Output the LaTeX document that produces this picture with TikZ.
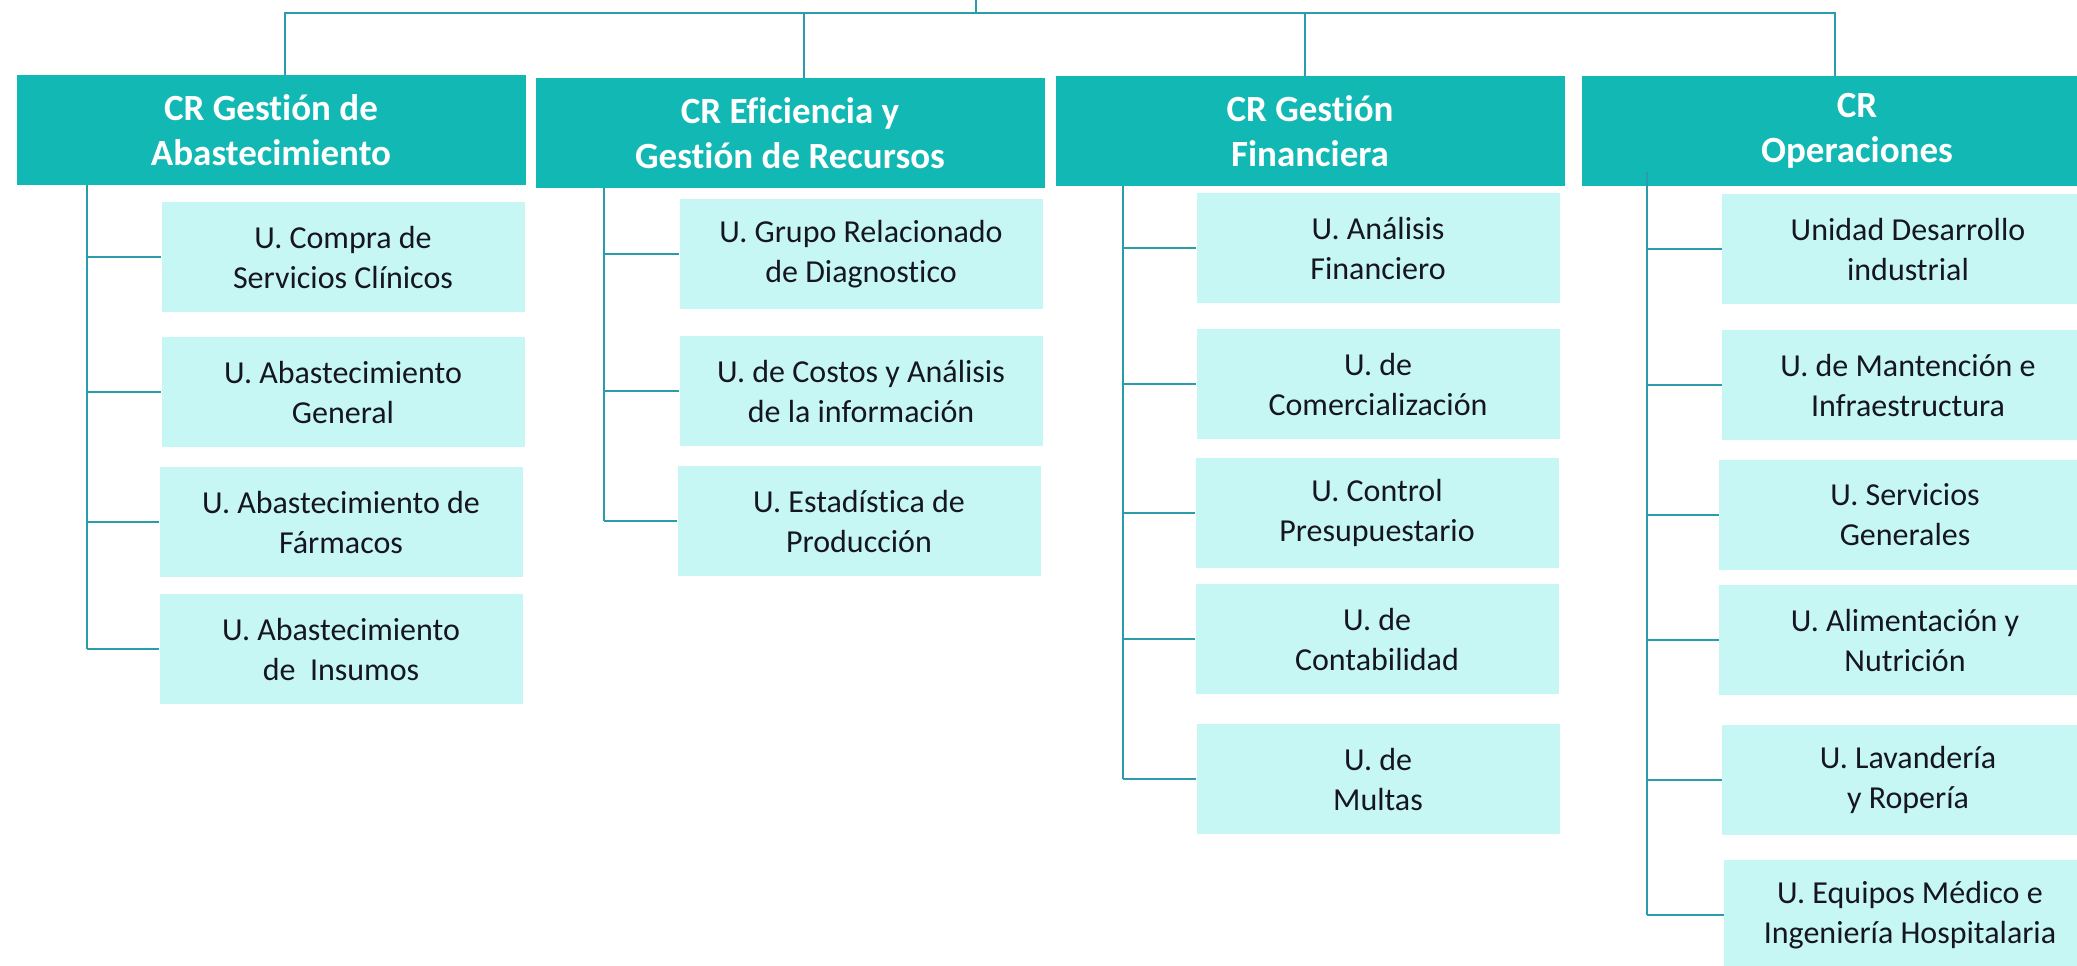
\documentclass[tikz,border=0pt]{standalone}
\usepackage{fontspec}
\setmainfont[Ligatures=NoCommon]{Carlito}

\definecolor{kopffarbe}{RGB}{18,184,180}
\definecolor{einheitfarbe}{RGB}{198,247,244}
\definecolor{linienfarbe}{RGB}{42,157,172}
\definecolor{schrift}{RGB}{22,22,32}

\begin{document}
\begin{tikzpicture}[
        x=0.5pt, y=-0.5pt,
        kopf/.style={rectangle, fill=kopffarbe, text=white, inner sep=0pt,
            font=\fontsize{18.5}{22.5}\selectfont\bfseries, align=center,
            minimum width=254.5pt, minimum height=55pt},
        einheit/.style={rectangle, fill=einheitfarbe, text=schrift, inner sep=0pt,
            font=\fontsize{16}{20}\selectfont, align=center,
            minimum width=181.5pt, minimum height=55pt},
        linie/.style={draw=linienfarbe, line width=1.2pt}
        ]
            \useasboundingbox (0,0) rectangle (2077,965);

            % Koordinaten der Leitungen
            \coordinate (O) at (976,0);
            \coordinate (T1) at (285,13);
            \coordinate (T2) at (804,13);
            \coordinate (T3) at (1305,13);
            \coordinate (T4) at (1835,13);
            \coordinate (S1) at (87,0);
            \coordinate (S2) at (604,0);
            \coordinate (S3) at (1123,0);
            \coordinate (S4) at (1647,0);

            % Kopfzeilen
            \node[kopf] (K1) at (271,130) {CR Gestión de\\Abastecimiento};
            \node[kopf] (K2) at (790,133) {CR Eficiencia y\\Gestión de Recursos};
            \node[kopf] (K3) at (1310,131) {CR Gestión\\Financiera};
            \node[kopf, minimum width=275pt] (K4) at (1857,131) {CR\\Operaciones};

            % Einheiten
            \node[einheit] (A1) at (343,257) {U. Compra de\\Servicios Clínicos};
            \node[einheit] (A2) at (343,392) {U. Abastecimiento\\General};
            \node[einheit] (A3) at (341,522) {U. Abastecimiento de\\Fármacos};
            \node[einheit] (A4) at (341,649) {U. Abastecimiento\\de\ \ Insumos};

            \node[einheit] (B1) at (861,254) {U. Grupo Relacionado\\de Diagnostico};
            \node[einheit] (B2) at (861,391) {U. de Costos y Análisis\\de la información};
            \node[einheit] (B3) at (859,521) {U. Estadística de\\Producción};

            \node[einheit] (C1) at (1378,248) {U. Análisis\\Financiero};
            \node[einheit] (C2) at (1378,384) {U. de\\Comercialización};
            \node[einheit] (C3) at (1377,513) {U. Control\\Presupuestario};
            \node[einheit] (C4) at (1377,639) {U. de\\Contabilidad};
            \node[einheit] (C5) at (1378,779) {U. de\\Multas};

            \node[einheit, minimum width=186pt] (D1) at (1908,249) {Unidad Desarrollo\\industrial};
            \node[einheit, minimum width=186pt] (D2) at (1908,385) {U. de Mantención e\\Infraestructura};
            \node[einheit, minimum width=186pt] (D3) at (1905,515) {U. Servicios\\Generales};
            \node[einheit, minimum width=186pt] (D4) at (1905,640) {U. Alimentación y\\Nutrición};
            \node[einheit, minimum width=186pt] (D5) at (1908,780) {U. Lavandería\\y Ropería};
            \node[einheit, minimum width=186pt] (D6) at (1910,915) {U. Equipos Médico e\\Ingeniería Hospitalaria};

            % Leitungen oben
            \draw[linie] (O) -- (O |- T1)
                    (T1 |- K1.north) -- (T1) -- (T4) -- (T4 |- K4.north)
                    (T2) -- (T2 |- K2.north)
                    (T3) -- (T3 |- K3.north);

            % Leitungen zu den Einheiten
            \draw[linie] (S1 |- K1.south) -- (S1 |- A4.west)
                    (A1.west) -- (A1.west -| S1)
                    (A2.west) -- (A2.west -| S1)
                    (A3.west) -- (A3.west -| S1)
                    (A4.west) -- (A4.west -| S1);
            \draw[linie] (S2 |- K2.south) -- (S2 |- B3.west)
                    (B1.west) -- (B1.west -| S2)
                    (B2.west) -- (B2.west -| S2)
                    (B3.west) -- (B3.west -| S2);
            \draw[linie] (S3 |- K3.south) -- (S3 |- C5.west)
                    (C1.west) -- (C1.west -| S3)
                    (C2.west) -- (C2.west -| S3)
                    (C3.west) -- (C3.west -| S3)
                    (C4.west) -- (C4.west -| S3)
                    (C5.west) -- (C5.west -| S3);
            \draw[linie] ([yshift=7pt]S4 |- K4.south) -- (S4 |- D6.west)
                    (D1.west) -- (D1.west -| S4)
                    (D2.west) -- (D2.west -| S4)
                    (D3.west) -- (D3.west -| S4)
                    (D4.west) -- (D4.west -| S4)
                    (D5.west) -- (D5.west -| S4)
                    (D6.west) -- (D6.west -| S4);

        \end{tikzpicture}
\end{document}
